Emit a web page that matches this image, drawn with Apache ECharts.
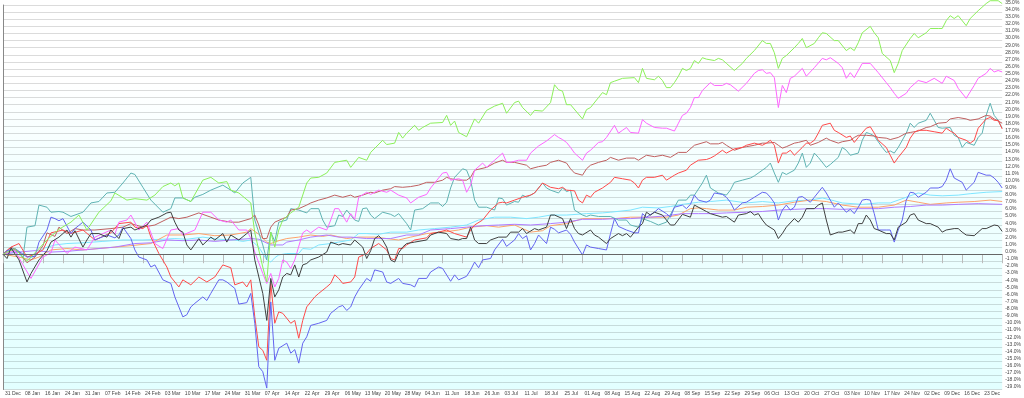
<!DOCTYPE html>
<html>
<head>
<meta charset="utf-8">
<script src="https://cdn.jsdelivr.net/npm/echarts@6/dist/echarts.min.js"></script>
<style>
html,body{margin:0;padding:0;background:#ffffff;}
#chart{width:1024px;height:398px;}
</style>
</head>
<body>
<div id="chart"></div>
<script>
const tickLabels = ['31 Dec','08 Jan','16 Jan','24 Jan','31 Jan','07 Feb','14 Feb','24 Feb','03 Mar','10 Mar','17 Mar','24 Mar','31 Mar','07 Apr','14 Apr','22 Apr','29 Apr','06 May','13 May','20 May','28 May','04 Jun','11 Jun','18 Jun','26 Jun','03 Jul','11 Jul','18 Jul','25 Jul','01 Aug','08 Aug','15 Aug','22 Aug','29 Aug','08 Sep','15 Sep','22 Sep','29 Sep','06 Oct','13 Oct','20 Oct','27 Oct','03 Nov','10 Nov','17 Nov','24 Nov','02 Dec','09 Dec','16 Dec','23 Dec'];

// [trading-day index, % change]
const greenData = [[0,0],[3,0.8],[6,-1.0],[9,0.8],[11,2.0],[14,3.5],[17,4.5],[19,5.5],[21,3.4],[24,5.9],[27,7.5],[28,8.6],[31,7.6],[33,7.8],[36,7.6],[38,8.3],[40,9.5],[42,10.0],[43,9.6],[44,10.0],[45,7.9],[47,7.4],[50,10.4],[52,10.8],[54,10.0],[56,10.2],[57,9.0],[59,8.6],[62,7.2],[63,3.0],[65,-1.8],[66,-3.9],[67,3.1],[68,1.0],[69,3.4],[70,4.8],[72,5.8],[74,6.6],[76,10],[77,10.7],[79,10.8],[81,11.4],[83,12.9],[84,13],[86,13.2],[87,12.2],[89,13.6],[91,13.2],[92,14.3],[95,16],[96,15.4],[98,15.6],[99,17.1],[100,16.3],[101,17],[103,18.1],[104,17.4],[105,17.8],[107,18.4],[110,18.5],[111,19.5],[112,18.1],[113,18.7],[114,17.1],[116,16.5],[118,19],[119,18.4],[121,20.2],[123,20.8],[125,21.2],[126,19.8],[128,21.3],[129,21.5],[130,20.6],[132,19.5],[133,20.2],[135,20.1],[137,21.3],[138,23.8],[139,23.1],[140,22.9],[141,21],[142,21],[145,19],[146,20.3],[147,20.6],[149,22],[150,22.7],[151,22.4],[152,24.1],[153,24.3],[155,24.7],[158,24.8],[159,24.1],[160,26.1],[161,24.7],[163,24.5],[164,25],[165,24.4],[166,23.4],[167,23.4],[168,24.1],[169,25],[170,26.1],[171,25.8],[172,26.1],[173,27.2],[174,26.8],[175,27.6],[176,27.4],[178,27.2],[179,27.5],[180,27.3],[181,26.8],[183,25.8],[185,26.8],[186,27.5],[188,28.6],[190,30],[191,29.6],[192,29.6],[193,28.3],[194,26.1],[195,27.5],[196,27.9],[198,29],[199,29.6],[200,30.3],[201,29],[203,29.6],[204,30.4],[205,31.1],[206,31],[208,30],[209,30],[211,28.6],[212,29],[213,28.6],[214,29.7],[215,31.1],[217,32],[218,31.1],[219,30.4],[220,28.2],[222,27.2],[223,25.5],[224,26.8],[225,28.6],[227,30.3],[228,31],[229,30.4],[231,31.1],[232,31.7],[234,31.7],[235,31.7],[236,32.8],[237,33.5],[238,33.1],[239,33.5],[241,32.1],[242,33.1],[244,34.2],[246,35.2],[247,35.6],[249,35.6],[250,35.2]];

const magentaData = [[0,0],[3,0.5],[5,-1.5],[7,-3.4],[10,-0.4],[12,0.2],[13,2.0],[16,0.1],[18,1.0],[21,0.6],[23,2.4],[27,3.4],[28,2.8],[29,4.5],[31,4.8],[32,5.5],[34,3.4],[36,4.5],[38,1.5],[40,0.8],[42,3.4],[44,3.6],[45,2.7],[48,3.4],[50,5.9],[52,5.9],[54,4.8],[56,4.5],[57,4.8],[59,3.4],[61,3.4],[62,2.2],[63,0.3],[65,-2.7],[66,-4.1],[67,-2.7],[68,-4.6],[69,-3.4],[70,-0.8],[71,-1.1],[72,-2.0],[73,-0.8],[75,3.0],[76,3.4],[77,3.0],[79,3.8],[81,3.4],[82,4.8],[83,6.4],[84,6.4],[86,4.5],[87,5.7],[88,4.9],[89,8.0],[91,8.7],[92,8.4],[94,9.0],[96,8.7],[97,9.0],[99,8.3],[101,7.9],[102,7.2],[104,8.0],[106,8.4],[107,9.3],[110,11.4],[111,11.5],[112,10.4],[114,10.6],[115,10.4],[116,8.7],[117,9.7],[118,11.8],[120,12.8],[121,12.2],[123,13.2],[125,14.2],[126,12.9],[127,12.9],[129,13.2],[131,13.2],[132,14.2],[134,15.2],[136,15.9],[138,16.8],[139,16.4],[140,16.1],[141,15.7],[142,15.0],[143,14.2],[145,13.2],[146,14.2],[147,14.6],[149,15.7],[150,15.8],[151,16.4],[153,18.1],[154,17.0],[155,17.4],[156,17.8],[157,17.1],[159,17.0],[160,18.9],[161,18.4],[163,17.8],[165,17.7],[166,17.7],[168,17.3],[169,18.4],[170,19.5],[171,19.8],[172,20.6],[173,22],[174,22],[175,23],[177,24.1],[178,23.7],[180,23.7],[181,24],[182,23.8],[184,22.9],[186,24],[188,25.4],[189,25.8],[190,25.9],[191,25.4],[192,25.5],[193,24.8],[194,20.6],[195,23.7],[196,22.7],[197,24.7],[198,25],[200,26.1],[201,25],[203,26.2],[205,27.5],[206,27.3],[207,27.6],[209,26.8],[210,26.2],[211,24.7],[212,25.5],[213,24.8],[215,26.8],[217,26.8],[219,25.5],[221,24.1],[222,23.4],[223,22.6],[224,21.9],[226,22.6],[227,23.4],[229,24.4],[231,24.1],[233,24.7],[235,24],[236,25],[238,24.4],[239,23.3],[241,21.9],[243,23.7],[244,24.7],[246,25.4],[247,26.1],[248,25.6],[249,25.8],[250,25.6]];

const brownData = [[0,0],[2,1.0],[4,0.3],[6,-1.2],[8,-0.4],[10,1.2],[11,3.0],[13,2.5],[14,3.8],[16,2.9],[18,3.6],[20,3.4],[23,3.4],[27,3.6],[30,3.8],[32,4.3],[35,3.8],[38,4.1],[42,5.2],[44,5.0],[46,5.2],[49,5.8],[52,5.2],[54,4.8],[57,4.5],[59,4.5],[62,5.0],[63,5.5],[64,4.1],[65,2.2],[66,2.2],[67,3.8],[68,4.5],[70,5.0],[71,5.2],[72,6.2],[74,6.4],[76,6.9],[77,7.2],[79,7.6],[81,7.9],[83,8.3],[85,8.0],[87,8.3],[88,8.0],[90,8.3],[92,8.7],[93,8.6],[95,9.0],[97,9.2],[98,9.5],[100,9.4],[102,9.5],[104,9.7],[106,10.1],[108,10.1],[110,10.4],[111,10.8],[112,10.6],[114,10.4],[116,10.4],[117,10.8],[118,11.8],[121,12.2],[123,12.8],[125,13.2],[126,12.9],[128,12.9],[131,12.5],[132,12.0],[134,12.3],[136,12.5],[137,12.9],[139,13.2],[141,12.8],[142,12.0],[143,11.4],[145,11.1],[146,12.0],[147,12.5],[149,12.9],[151,13.2],[152,13.6],[154,13.2],[156,13.5],[158,13.5],[159,13.2],[161,13.9],[163,13.7],[165,13.9],[167,13.6],[169,14.3],[171,14.3],[173,15.3],[176,15.8],[177,15.5],[179,15.5],[180,15.7],[181,15.3],[183,14.6],[185,15.0],[186,15.1],[188,15.3],[190,15.6],[191,15.6],[193,15.7],[194,15.3],[195,14.9],[196,15.1],[198,15.6],[199,15.7],[201,16.0],[202,15.3],[204,15.7],[206,16.3],[207,16.0],[209,15.6],[210,15.8],[212,16.0],[213,16.4],[214,16.7],[216,16.7],[218,16.6],[219,16.4],[221,16.3],[222,16.1],[224,16.4],[226,17.0],[227,17.1],[229,17.3],[231,17.8],[232,17.9],[234,18.4],[236,18.5],[237,19.0],[239,19.2],[241,19.0],[242,18.8],[244,19.0],[246,19.5],[247,19.4],[248,19.0],[250,18.4]];

const redData = [[0,0],[2,1.0],[4,1.5],[6,-0.4],[8,0.0],[10,0.6],[12,3.0],[15,3.4],[17,2.9],[20,3.4],[23,2.0],[27,3.0],[29,4.3],[32,4.5],[33,3.8],[35,3.6],[36,4.1],[37,2.4],[39,0.1],[41,-1.8],[42,-3.2],[44,-4.6],[45,-3.6],[47,-4.3],[49,-3.2],[51,-3.9],[53,-3.2],[55,-1.5],[57,-1.9],[58,-4.3],[60,-3.9],[61,-4.6],[62,-3.6],[63,-8.8],[64,-13],[65,-13.5],[66,-14.9],[67,-4.1],[68,-9.7],[69,-8.1],[70,-8.3],[72,-9.7],[73,-9.3],[74,-11.8],[75,-9.3],[76,-7.4],[78,-6.0],[79,-5.5],[81,-4.6],[82,-4.1],[83,-2.9],[84,-3.4],[85,-4.1],[87,-3.9],[88,-3.2],[89,-0.4],[91,0.1],[92,0.8],[94,1.5],[96,0.6],[97,-0.6],[98,-0.8],[99,0.8],[100,0.8],[101,1.3],[103,2.0],[106,2.3],[107,2.9],[109,3.1],[111,3.4],[113,2.9],[116,2.4],[117,3.4],[118,4.1],[120,4.8],[121,5.5],[122,6.2],[124,7.2],[125,7.3],[126,7.2],[128,7.6],[130,8.0],[132,8.3],[133,8.6],[134,9.3],[135,10.0],[136,9.7],[137,9.4],[139,9.2],[140,9.4],[141,9.0],[143,8.9],[144,7.6],[145,7.2],[146,8.3],[147,8.0],[148,8.7],[150,9.3],[152,10.1],[153,10.8],[155,10.6],[157,10.4],[158,10.0],[159,9.3],[160,10.4],[161,10.8],[163,10.8],[165,11.1],[166,10.4],[168,11.1],[169,11.4],[171,11.8],[172,12.5],[174,13.2],[176,13.3],[177,13.5],[178,13.8],[180,14.6],[181,14.2],[183,14.8],[185,15.0],[186,15.3],[188,15.6],[190,15.3],[191,15.6],[192,16.0],[193,15.3],[194,12.8],[195,14.2],[196,14.2],[197,14.6],[198,13.9],[200,15.0],[201,15.6],[202,15.6],[203,16.0],[204,17.0],[205,18.1],[207,18.4],[208,17.4],[209,17.1],[211,16.4],[212,16.6],[213,15.7],[214,16.4],[216,17.7],[217,17.9],[218,17.0],[219,16.0],[221,15.0],[222,13.9],[223,12.8],[224,13.6],[226,15.0],[227,16.3],[228,17.1],[229,17.4],[231,17.4],[233,17.2],[235,17.0],[236,17.7],[237,17.3],[238,17.0],[239,16.4],[241,16.0],[242,15.6],[243,16.0],[244,17.7],[246,19.0],[247,19.2],[248,18.8],[249,18.8],[250,17.6]];

const tealData = [[0,0],[2,0.6],[4,0.3],[5,-0.5],[6,3.8],[8,4.0],[9,6.9],[11,6.6],[12,5.9],[14,6.0],[15,5.9],[17,5.3],[20,5.9],[22,7.2],[24,7.4],[26,8.6],[28,8.7],[30,10],[32,11.4],[33,11.2],[35,9.4],[37,7.6],[40,5.9],[42,6.4],[43,7.9],[45,7.9],[47,7.4],[48,8.0],[50,8.4],[52,9.0],[55,9.7],[57,9.0],[58,8.6],[60,10.0],[62,10.8],[63,4.8],[65,1.3],[66,-0.8],[67,3.1],[68,1.8],[69,4.5],[71,4.8],[72,6.4],[74,6.2],[76,5.8],[77,6.4],[79,6.4],[80,4.8],[81,3.8],[83,4.0],[84,5.5],[85,5.3],[86,6.2],[87,5.5],[88,4.8],[89,4.6],[90,6.4],[91,6.5],[92,5.5],[93,5.0],[95,5.9],[97,5.6],[98,5.3],[99,5.7],[101,4.3],[102,3.4],[103,6.2],[105,6.4],[107,7.2],[109,7.2],[110,6.7],[111,7.3],[112,9.3],[113,10.8],[115,12.0],[116,11.8],[117,10.4],[118,7.6],[119,6.6],[121,6.6],[122,6.4],[123,6.2],[124,7.9],[125,7.8],[126,6.9],[128,7.4],[129,7.3],[130,8.3],[131,8.0],[133,8.6],[135,10.0],[136,9.3],[137,9.0],[139,8.6],[140,9.3],[141,8.8],[142,9.0],[143,6.2],[145,5.5],[146,5.3],[147,5.5],[149,5.3],[152,5.3],[154,4.8],[156,4.8],[157,4.1],[159,3.8],[160,5.0],[162,4.6],[164,4.1],[166,4.5],[168,6.6],[169,7.6],[171,7.6],[172,8.3],[173,8.3],[175,10.0],[176,11.1],[177,9.3],[179,8.6],[181,8.3],[182,9.0],[183,10.1],[185,10.4],[187,10.7],[188,11.0],[190,11.8],[191,12.2],[192,12.8],[193,11.4],[194,10.1],[195,11.5],[196,11.2],[198,11.8],[199,12.8],[200,14.2],[201,12.2],[202,12.8],[203,14.2],[204,13.6],[206,12.2],[207,12.6],[209,13.6],[210,15.0],[211,14.6],[212,13.9],[214,14.2],[215,16.0],[216,17.1],[217,16.9],[218,16.6],[220,15.0],[221,14.3],[222,14.5],[223,14.2],[224,15.0],[226,17.0],[227,18.4],[228,17.8],[229,18.4],[231,18.8],[232,19.8],[234,17.8],[235,17.7],[237,17.8],[238,16.7],[239,16.4],[240,15.0],[241,15.7],[243,15.3],[244,16.4],[245,17.0],[246,19.5],[247,21.2],[248,19.5],[249,18.8],[250,17.7]];

const blueData = [[0,0],[1,0.5],[3,0.8],[6,-0.4],[8,-0.3],[9,1.7],[11,3.4],[12,5.2],[13,5.0],[14,4.7],[15,5.0],[17,2.9],[18,3.6],[20,4.5],[22,3.4],[23,2.0],[26,2.7],[28,2.3],[29,2.7],[30,3.8],[32,2.2],[33,0.6],[34,-0.4],[36,-0.8],[37,-1.8],[38,-1.5],[40,-3.6],[42,-4.1],[43,-6.0],[45,-8.8],[46,-8.5],[47,-7.4],[48,-6.9],[50,-6.0],[51,-6.5],[52,-5.5],[54,-3.6],[55,-3.6],[56,-3.9],[58,-4.8],[59,-7.0],[61,-6.8],[62,-5.5],[63,-9.7],[64,-15.8],[65,-16.5],[66,-18.8],[67,-6.7],[68,-14.9],[69,-13.2],[71,-12.5],[72,-13.9],[73,-13.4],[74,-15.3],[75,-12.5],[76,-11.6],[77,-10.0],[79,-9.7],[81,-9.3],[82,-8.3],[84,-7.4],[85,-7.2],[86,-7.9],[87,-7.4],[88,-6.0],[89,-5.0],[91,-3.4],[92,-3.8],[93,-2.2],[95,-2.5],[96,-3.9],[97,-4.1],[99,-3.4],[100,-4.1],[102,-4.3],[103,-4.6],[104,-3.4],[106,-3.4],[107,-2.5],[109,-1.8],[110,-2.0],[112,-3.8],[113,-2.9],[114,-3.6],[116,-3.1],[117,-2.2],[118,-1.1],[119,-1.9],[120,-0.8],[122,-0.6],[123,0.6],[125,2.1],[126,1.1],[128,2.0],[129,2.9],[130,2.2],[131,2.6],[132,0.6],[133,1.5],[134,2.7],[136,1.5],[137,3.8],[138,3.5],[139,3.0],[141,3.4],[142,2.8],[143,1.7],[145,-0.1],[146,1.3],[147,1.0],[149,0.8],[151,0.6],[152,2.9],[153,5.0],[154,3.9],[156,3.4],[158,3.0],[159,3.0],[160,5.7],[161,5.2],[163,5.9],[164,6.4],[166,5.7],[167,5.2],[168,6.6],[170,6.9],[171,6.4],[172,7.0],[173,8.3],[174,7.6],[176,7.3],[177,7.6],[178,8.6],[180,8.4],[181,8.0],[182,7.3],[183,6.2],[185,7.2],[186,7.3],[188,8.0],[190,8.7],[191,8.6],[192,8.0],[193,7.2],[194,4.8],[195,6.2],[196,6.9],[197,6.2],[198,6.6],[199,8.0],[200,8.1],[202,7.3],[203,8.0],[205,9.4],[206,8.6],[207,7.6],[208,6.6],[209,7.2],[211,5.9],[212,6.3],[213,5.7],[214,6.6],[215,7.6],[216,7.7],[217,7.6],[218,5.7],[219,3.4],[221,3.4],[222,3.4],[223,1.7],[224,3.4],[225,4.8],[226,7.6],[227,8.7],[228,8.6],[229,8.0],[231,8.7],[232,9.3],[234,9.3],[235,9.5],[236,10.4],[237,12.0],[238,10.7],[240,10.1],[241,9.0],[243,10.1],[244,11.5],[246,11.1],[247,11.1],[248,10.7],[249,10.1],[250,9.3]];

const cyanData = [[0,0],[3,0.3],[6,-0.8],[8,-0.2],[10,0.8],[13,1.3],[16,1.5],[20,1.6],[25,1.8],[30,2.0],[35,2.0],[40,2.1],[43,2.2],[46,2.1],[50,2.4],[54,2.1],[58,2.0],[60,1.8],[62,2.0],[64,1.0],[66,-0.8],[67,-1.1],[68,-0.5],[69,-0.1],[71,0.1],[74,0.1],[75,0.8],[77,0.7],[79,1.3],[82,1.5],[84,1.7],[87,2.0],[89,2.9],[91,2.9],[94,2.8],[97,3.1],[101,3.1],[104,3.4],[108,3.6],[112,3.8],[116,4.1],[119,4.8],[123,5.2],[127,5.2],[131,5.0],[134,5.2],[137,5.5],[141,5.5],[146,5.7],[150,5.8],[152,5.9],[157,6.2],[160,6.6],[164,6.5],[167,6.7],[170,7.0],[174,7.3],[177,7.4],[181,7.6],[186,7.2],[190,7.4],[194,7.2],[198,7.5],[202,7.6],[205,7.9],[208,7.5],[210,7.2],[215,7.0],[219,7.2],[222,7.2],[226,8.0],[229,8.6],[232,8.3],[235,8.2],[239,8.3],[242,8.5],[246,8.7],[250,8.8]];

const orangeData = [[0,0],[4,-0.4],[7,-0.8],[9,-0.4],[12,0.6],[16,0.8],[20,0.6],[24,0.8],[28,1.0],[32,1.2],[37,1.5],[41,2.7],[45,2.7],[49,2.9],[53,2.6],[57,2.7],[61,3.1],[62,3.6],[64,2.8],[66,1.7],[67,1.5],[69,1.9],[71,2.2],[74,2.4],[77,2.7],[80,2.5],[82,2.7],[86,2.2],[89,2.4],[93,2.4],[96,2.2],[99,2.0],[102,2.4],[106,2.9],[110,3.1],[114,3.4],[117,3.8],[121,4.0],[124,3.8],[128,4.1],[132,3.1],[135,3.3],[137,4.0],[141,4.3],[145,5.0],[150,5.0],[153,5.0],[157,5.2],[162,5.2],[166,5.2],[169,5.5],[172,6.4],[174,6.5],[176,6.4],[179,6.2],[183,6.2],[186,6.6],[190,6.7],[194,6.9],[198,7.3],[202,7.6],[206,7.4],[210,6.9],[214,6.6],[219,6.6],[223,6.9],[226,7.6],[229,7.3],[232,7.0],[236,7.2],[239,7.3],[243,7.4],[247,7.6],[250,7.4]];

const purpleData = [[0,0],[4,0.3],[8,0.5],[12,0.3],[16,0.4],[20,0.6],[24,0.8],[28,1.0],[33,1.5],[37,1.6],[41,2.0],[45,1.9],[49,2.0],[53,1.8],[57,2.0],[62,2.2],[64,2.1],[67,1.3],[70,1.3],[71,1.7],[74,2.0],[77,2.4],[81,2.7],[84,2.4],[87,2.4],[91,2.2],[94,2.2],[97,2.2],[101,2.7],[104,2.7],[107,3.4],[112,3.6],[116,3.8],[120,4.0],[124,4.1],[128,4.2],[132,4.1],[137,4.3],[141,4.5],[145,4.9],[150,4.9],[153,5.0],[157,5.0],[162,5.2],[166,5.4],[170,5.7],[174,5.7],[177,5.7],[181,5.8],[186,5.9],[190,6.0],[194,6.2],[198,6.3],[202,6.4],[206,6.4],[210,6.3],[214,6.4],[219,6.4],[223,6.6],[227,6.7],[231,6.9],[235,6.9],[239,7.0],[244,7.1],[250,7.0]];

const blackData = [[0,0],[1,-0.6],[2,0.9],[4,-0.8],[6,-3.9],[7,-2.7],[9,-0.8],[11,0.5],[12,1.7],[14,2.4],[16,3.4],[17,2.4],[18,3.3],[20,1.0],[21,2.0],[22,2.9],[24,2.9],[26,2.4],[27,3.4],[29,2.2],[30,3.6],[32,3.8],[33,3.4],[36,4.1],[37,4.8],[39,5.2],[41,5.8],[42,5.9],[43,4.5],[44,3.4],[45,3.1],[46,1.3],[47,0.6],[49,2.2],[50,1.3],[52,2.4],[53,2.0],[55,2.9],[56,1.7],[57,2.7],[59,2.0],[61,2.9],[62,3.4],[63,-0.8],[65,-5.5],[66,-9.3],[67,-3.4],[68,-6],[69,-5],[70,-3.2],[71,-2.7],[72,-2.9],[73,-1.5],[74,-3.2],[75,-1.5],[76,-1.3],[77,-0.8],[79,-0.4],[81,0.3],[82,1.7],[84,1.3],[85,1.5],[87,1.3],[88,2],[90,1.0],[91,-0.6],[92,0.5],[93,2.2],[94,2.6],[95,2.0],[96,1.0],[97,-0.8],[98,-1.1],[99,0.2],[100,1.0],[101,1.5],[103,1.7],[106,2.0],[107,2.7],[109,3.1],[111,2.9],[112,2.2],[114,2.0],[115,2.2],[116,2.2],[117,3.8],[118,2.0],[119,1.5],[121,1.5],[122,2.0],[124,2.4],[126,2.4],[127,3.1],[129,3.1],[130,3.6],[131,2.9],[133,3.6],[134,3.4],[136,3.8],[137,5.5],[138,5.5],[140,5.0],[141,3.6],[142,5.0],[143,3.6],[144,2.9],[145,2.7],[147,3.4],[148,2.7],[149,2.4],[151,1.5],[152,2.2],[154,2.9],[155,2.6],[156,2.9],[157,2.4],[159,3.8],[160,4.3],[161,5.9],[162,5.5],[163,5.9],[165,5.5],[166,4.8],[167,4.1],[168,4.1],[170,5.6],[172,5.2],[173,6.9],[176,6.0],[177,5.7],[180,5.2],[181,5.3],[183,4.5],[184,5.5],[186,5.7],[187,6.0],[188,5.5],[189,5.7],[190,4.8],[191,4.1],[193,3.4],[194,2.2],[195,2.9],[196,3.8],[198,5.0],[199,4.5],[200,5.2],[201,6.4],[203,6.4],[204,6.9],[205,7.2],[206,4.8],[207,2.7],[209,3.1],[210,3.1],[212,3.4],[213,2.9],[214,4.3],[215,4.3],[216,5.5],[217,4.8],[218,3.6],[219,3.4],[221,2.9],[222,2.9],[223,2.0],[224,3.8],[226,4.5],[227,5.5],[228,5.7],[229,4.8],[231,4.3],[232,4.3],[234,3.8],[235,3.1],[236,3.4],[238,3.6],[239,3.6],[240,3.1],[241,2.7],[243,2.6],[245,3.6],[246,3.6],[248,4.1],[249,4.0],[250,3.2]];

const seriesList = [
  {name:'Cyan', data:cyanData, color:'#7fe6ff'},
  {name:'Orange', data:orangeData, color:'#ffa36c'},
  {name:'Purple', data:purpleData, color:'#b07cff'},
  {name:'Teal', data:tealData, color:'#5fb3b3'},
  {name:'Brown', data:brownData, color:'#c06060'},
  {name:'Red', data:redData, color:'#ff4a4a'},
  {name:'Blue', data:blueData, color:'#6464f0'},
  {name:'Magenta', data:magentaData, color:'#ff66ff'},
  {name:'Green', data:greenData, color:'#8cf05a'},
  {name:'Black', data:blackData, color:'#404040'}
];

const chart = echarts.init(document.getElementById('chart'), null, {renderer:'canvas'});
chart.setOption({
  animation:false,
  backgroundColor:'#ffffff',
  grid:{
    left:3, right:19, top:4.4, bottom:8.5,
    show:true, borderWidth:0,
    backgroundColor:new echarts.graphic.LinearGradient(0,0,0,1,[
      {offset:0,color:'#ffffff'},{offset:0.2,color:'#ffffff'},
      {offset:0.45,color:'#f2ffff'},{offset:1,color:'#e2ffff'}])
  },
  xAxis:{
    type:'value', min:0, max:250, interval:5,
    axisLine:{show:true, lineStyle:{color:'#999999', width:1}},
    axisTick:{show:true, length:9, lineStyle:{color:'#bbbbbb'}},
    splitLine:{show:false},
    axisLabel:{
      align:'left', margin:2, padding:[0,0,0,2],
      fontSize:5, color:'#444', fontFamily:'Liberation Sans',
      formatter:function(v){ const k=Math.round(v/5); return tickLabels[k]||''; }
    }
  },
  yAxis:{
    type:'value', position:'right', min:-19, max:35, interval:1,
    axisLine:{show:true, lineStyle:{color:'#888888', width:1}},
    axisTick:{show:false},
    splitLine:{show:true, lineStyle:{color:'rgba(0,0,0,0.14)', width:1}},
    axisLabel:{
      margin:3, fontSize:5, color:'#444', fontFamily:'Liberation Sans',
      verticalAlign:'bottom',
      formatter:function(v){ return v.toFixed(1)+'%'; }
    }
  },
  series: seriesList.map(s=>({
    name:s.name, type:'line', data:s.data, showSymbol:false, clip:false,
    lineStyle:{color:s.color, width:1}, itemStyle:{color:s.color}
  })).concat([{
    type:'line', data:[], markLine:{silent:true, symbol:'none', label:{show:false},
      lineStyle:{color:'#666666', width:1, type:'solid'}, data:[{yAxis:0}]}
  }])
});
</script>
</body>
</html>
